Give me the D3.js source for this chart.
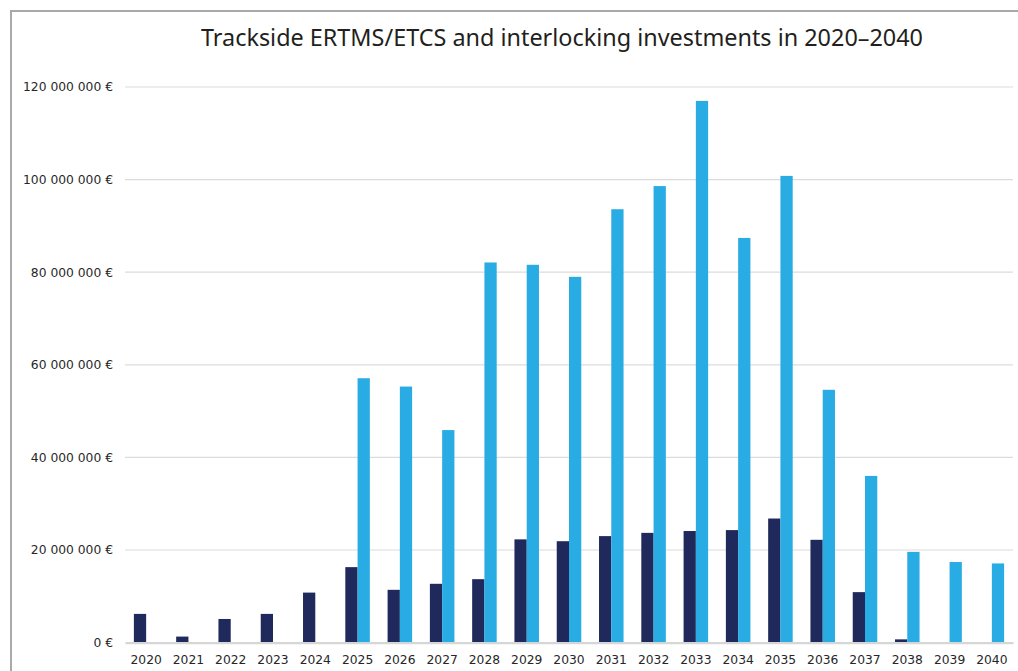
<!DOCTYPE html>
<html>
<head>
<meta charset="utf-8">
<script src="https://cdn.jsdelivr.net/npm/d3@7"></script>
<style>
  html, body { margin: 0; padding: 0; background: #ffffff; }
  svg { display: block; }
</style>
</head>
<body>
<svg id="chart" width="1018" height="671"></svg>
<script>
// Annual investment figures (EUR)
const years = ["2020","2021","2022","2023","2024","2025","2026","2027","2028","2029","2030",
               "2031","2032","2033","2034","2035","2036","2037","2038","2039","2040"];
const interlocking = [6.2e6, 1.3e6, 5.1e6, 6.2e6, 10.8e6, 16.3e6, 11.4e6, 12.7e6, 13.7e6, 22.3e6, 21.9e6,
                      23.0e6, 23.7e6, 24.1e6, 24.3e6, 26.8e6, 22.2e6, 10.9e6, 0.7e6, 0, 0];
const ertms = [0, 0, 0, 0, 0, 57.1e6, 55.3e6, 45.9e6, 82.1e6, 81.6e6, 79.0e6,
               93.6e6, 98.6e6, 117.0e6, 87.4e6, 100.8e6, 54.6e6, 36.0e6, 19.6e6, 17.4e6, 17.1e6];
const seriesKeys = ["interlocking", "ertms"];
const yTicks = [0, 20e6, 40e6, 60e6, 80e6, 100e6, 120e6];
const titleText = "Trackside ERTMS/ETCS and interlocking investments in 2020\u20132040";

const colors = { interlocking: "#1f295b", ertms: "#29ace3" };

const svg = d3.select("#chart");
const plot = { left: 125, right: 1013, top: 87, bottom: 642.6 };

// Outer frame
svg.append("rect")
  .attr("x", 11).attr("y", 11)
  .attr("width", 1030).attr("height", 700)
  .attr("fill", "none")
  .attr("stroke", "#a9a9a9")
  .attr("stroke-width", 2);

// Title
svg.append("text")
  .attr("x", 562).attr("y", 46)
  .attr("text-anchor", "middle")
  .attr("font-family", "'Noto Sans', sans-serif")
  .attr("font-size", 23)
  .attr("fill", "#231f20")
  .attr("textLength", 722)
  .attr("lengthAdjust", "spacingAndGlyphs")
  .text(titleText);

const x = d3.scaleBand().domain(years).range([plot.left, plot.right]).paddingInner(0.42).paddingOuter(0.21);
const x1 = d3.scaleBand().domain(seriesKeys).range([0, x.bandwidth()]).padding(0);
const y = d3.scaleLinear().domain([0, 120e6]).range([plot.bottom, plot.top]);

// Gridlines
svg.append("g")
  .selectAll("line")
  .data(yTicks.filter(d => d > 0))
  .join("line")
  .attr("x1", plot.left).attr("x2", plot.right)
  .attr("y1", d => y(d)).attr("y2", d => y(d))
  .attr("stroke", "#dcdcdc")
  .attr("stroke-width", 1.2);

// Y axis labels
const fmt = v => d3.format(",")(v).replace(/,/g, " ") + " \u20ac";
const yAxis = svg.append("g")
  .attr("transform", `translate(${plot.left},0)`)
  .call(d3.axisLeft(y).tickValues(yTicks).tickFormat(fmt).tickSize(0).tickPadding(12));
yAxis.select(".domain").remove();
yAxis.selectAll("text")
  .attr("font-family", "'DejaVu Sans', Verdana, sans-serif")
  .attr("font-size", 12.3)
  .attr("fill", "#262626");

// Bars
const rows = years.map((yr, i) => ({ year: yr, interlocking: interlocking[i], ertms: ertms[i] }));
const groups = svg.append("g")
  .selectAll("g")
  .data(rows)
  .join("g")
  .attr("transform", d => `translate(${x(d.year)},0)`);
groups.selectAll("rect")
  .data(d => seriesKeys.map(k => ({ key: k, value: d[k] })).filter(e => e.value > 0))
  .join("rect")
  .attr("x", d => x1(d.key))
  .attr("width", x1.bandwidth())
  .attr("y", d => y(d.value))
  .attr("height", d => y(0) - y(d.value))
  .attr("fill", d => colors[d.key]);

// X axis (baseline + year labels)
const xAxis = svg.append("g")
  .attr("transform", `translate(0,${plot.bottom})`)
  .call(d3.axisBottom(x).tickSize(0).tickPadding(12.5));
xAxis.select(".domain")
  .attr("stroke", "#d6d6d6")
  .attr("stroke-width", 2.2);
xAxis.selectAll("text")
  .attr("font-family", "'DejaVu Sans', Verdana, sans-serif")
  .attr("font-size", 12.3)
  .attr("fill", "#262626");
</script>
</body>
</html>
